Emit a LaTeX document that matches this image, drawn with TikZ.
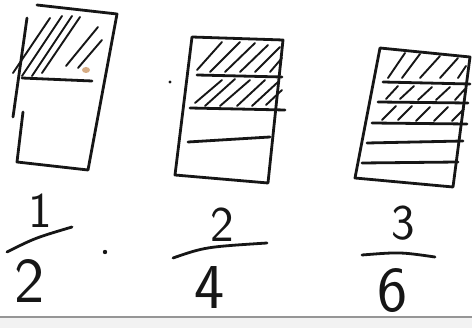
\documentclass[tikz,border=0pt]{standalone}
\usetikzlibrary{calc}
\definecolor{PenInk}{RGB}{22,22,22}
\definecolor{ScanGray}{RGB}{150,150,150}
\definecolor{StainTan}{RGB}{214,172,132}

\begin{document}
\begin{tikzpicture}[x=1pt,y=-1pt,
  pen/.style={PenInk,line width=2.8pt,line cap=round,line join=round},
  hatch/.style={PenInk,line width=1.9pt,line cap=round},
  numeral/.style={PenInk,inner sep=0pt,font=\sffamily\fontsize{50}{50}\selectfont},
  bignumeral/.style={numeral,font=\sffamily\fontsize{64}{64}\selectfont}]
  \useasboundingbox[fill=white] (0,0) rectangle (472,328);
  % edge of the scanned sheet
  \fill[gray!10] (0,317) rectangle (472,328);
  \draw[ScanGray,line width=1.2pt] (0,317)--(472,317);

  % one half
  \draw[pen] (27,18)--(13,117);
  \draw[pen] (37,5)--(117,14)--(88,170)--(17,162)--(23,112);
  \draw[pen] (22,78)--(92,81);
  \foreach \xa/\ya/\xb/\yb in {13/73/50/18, 22/76/62/16, 32/76/72/16, 42/73/80/17,
                               66/66/98/27, 78/68/102/40}
    \draw[hatch] (\xa,\ya)--(\xb,\yb);
  \fill[StainTan] (86,70) ellipse (4 and 3);

  % two quarters
  \fill[PenInk] (170,82) circle (1.6);
  \draw[pen] (192,37)--(283,40)--(268,183)--(175,175)--cycle;
  \draw[pen] (197,75)--(282,77);
  \draw[pen] (190,108)--(285,110);
  \draw[pen] (188,142)--(270,137);
  \foreach \xa/\ya/\xb/\yb in {197/70/222/42, 210/72/240/42, 225/72/255/43,
                               240/72/268/45, 255/72/280/47, 270/72/282/58,
                               195/103/222/80, 205/106/235/79, 220/106/250/80,
                               237/106/265/80, 252/106/278/82, 266/105/282/90}
    \draw[hatch] (\xa,\ya)--(\xb,\yb);

  % three sixths
  \draw[pen] (380,48)--(470,57)--(453,187)--(355,178)--cycle;
  \draw[pen] (383,82)--(470,84);
  \draw[pen] (378,102)--(468,103);
  \draw[pen] (372,123)--(467,124);
  \draw[pen] (367,143)--(463,141);
  \draw[pen] (362,163)--(458,162);
  \foreach \xa/\ya/\xb/\yb in {388/78/405/53, 402/78/420/54, 420/78/440/56,
                               440/78/458/58, 458/78/466/66,
                               386/99/398/86, 400/99/414/86, 418/100/432/87,
                               436/100/450/87, 455/100/465/89,
                               382/120/396/106, 398/120/412/106, 416/121/430/107,
                               434/121/448/107, 452/121/464/109}
    \draw[hatch] (\xa,\ya)--(\xb,\yb);

  % fractions
  \node[numeral] (num1) at (40,211) {1};
  \draw[pen] (7,252) .. controls (35,238) .. (72,227);
  \node[bignumeral] (den1) at (30,281) {2};
  \fill[PenInk] (105,252) circle (2.2);
  \node[numeral] (num2) at (222,225) {2};
  \draw[pen] (173,258) .. controls (205,247) .. (267,243);
  \node[bignumeral] (den2) at (210,288) {4};
  \node[numeral] (num3) at (403,223) {3};
  \draw[pen] (362,255) .. controls (400,252) .. (435,257);
  \node[bignumeral] (den3) at (393,291) {6};
\end{tikzpicture}
\end{document}
